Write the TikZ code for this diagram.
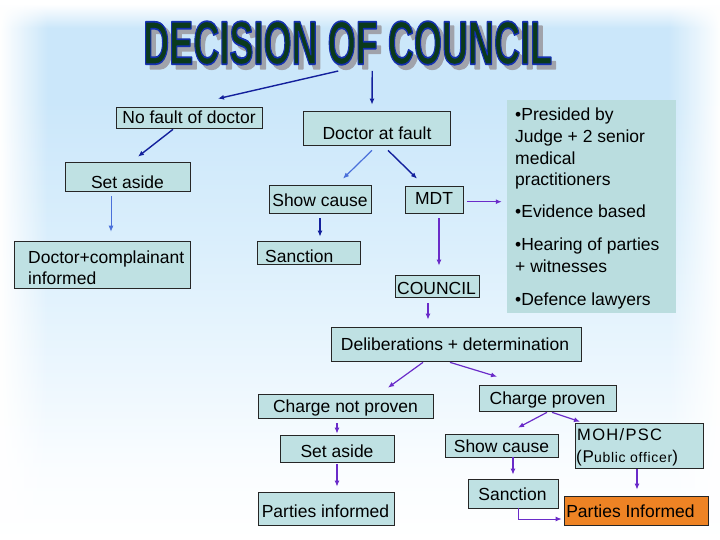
\documentclass[tikz,border=0pt]{standalone}
\usepackage{fontspec}
\setmainfont{Liberation Sans}
\usetikzlibrary{arrows.meta,fit,fadings}
\definecolor{boxfill}{HTML}{BFE1E3}
\definecolor{infofill}{HTML}{BADDDF}
\definecolor{orangefill}{HTML}{EE8324}
\definecolor{dblue}{HTML}{13209C}
\definecolor{lblue}{HTML}{4A70DA}
\definecolor{purp}{HTML}{6A2BC9}
\definecolor{ttlgreen}{HTML}{0B3A1C}
\definecolor{ttlshadow}{HTML}{A0A3AB}
\definecolor{bgA}{HTML}{CBE7FA}
\definecolor{bgB}{HTML}{DBEFFC}
\definecolor{bgC}{HTML}{EDF7FE}
\definecolor{bgD}{HTML}{FAFDFF}
\tikzfading[name=fadeL, left color=transparent!0, right color=transparent!100]
\tikzfading[name=fadeR, left color=transparent!100, right color=transparent!0]
\pgfdeclareverticalshading{bgshade}{100bp}{color(0bp)=(white); color(25bp)=(white); color(31.5bp)=(bgD); color(39.8bp)=(bgC); color(51.9bp)=(bgB); color(65.7bp)=(bgA); color(72.4bp)=(bgA); color(74.6bp)=(white); color(100bp)=(white)}
% #1 = stroke colour (r g b) for the glyph outline
\newcommand\ttltext[1]{\resizebox{409pt}{43pt}{\bfseries\special{pdf:literal direct 2 Tr #1 RG 0.28 w 1 j}DECISION OF COUNCIL\special{pdf:literal direct 0 Tr 0 j}}}
\begin{document}
\begin{tikzpicture}[x=1pt,y=-1pt,
  bx/.style={draw=black!85, line width=0.7pt, fill=boxfill, inner sep=0pt},
  tx/.style={inner sep=0pt, font=\fontsize{17.5}{21}\selectfont, text=black},
  mohtx/.style={inner sep=0pt, font=\fontsize{16.5}{18}\selectfont\addfontfeature{LetterSpace=8}, text=black},
  mohtxb/.style={inner sep=0pt, font=\fontsize{14}{17}\selectfont\addfontfeature{LetterSpace=5}, text=black},
  ttl/.style={inner sep=0pt, anchor=south west},
  arr/.style={-{Latex[length=6pt,width=5pt]}},
  darr/.style={arr, draw=dblue, line width=1.4pt},
  larr/.style={arr, draw=lblue, line width=1.2pt},
  thinarr/.style={arr, draw=lblue, line width=0.8pt},
  parr/.style={arr, draw=purp, line width=1.2pt}]

\useasboundingbox (0,0) rectangle (720,540);
% background
\shade[shading=bgshade] (0,0) rectangle (720,540);
\fill[white, path fading=fadeL] (0,0) rectangle (48,540);
\fill[white, path fading=fadeR] (668,0) rectangle (720,540);

% title with shadow
\node[ttl, text=ttlshadow] (tshadow) at (147.5,69.5) {\ttltext{0.63 0.64 0.67}};
\node[ttl, text=ttlgreen] (title) at (143,65) {\ttltext{0.08 0.19 0.69}};

% boxes
\node[bx, fit={(116,107)(262,128)}] (nofault) {};
\node[bx, fit={(303,111)(450,145)}] (atfault) {};
\node[bx, fit={(65,162)(190,191)}] (setaside1) {};
\node[bx, fit={(14,241)(190,288)}] (informed1) {};
\node[bx, fit={(269,185)(371,213)}] (showcause1) {};
\node[bx, fit={(405,186)(463,213)}] (mdt) {};
\node[bx, fit={(257,241)(360,264)}] (sanction1) {};
\node[bx, fit={(395,275)(479,297)}] (council) {};
\node[inner sep=0pt, fill=infofill, fit={(507,100)(676,313)}] (info) {};
\node[bx, fit={(331,327)(581,361)}] (delib) {};
\node[bx, fit={(258,394)(433,418)}] (cnp) {};
\node[bx, fit={(479,385)(616,411)}] (cp) {};
\node[bx, fit={(280,435)(394,462)}] (setaside2) {};
\node[bx, fit={(445,434)(558,457)}] (showcause2) {};
\node[bx, fit={(575,423)(703,468)}] (moh) {};
\node[bx, fit={(468,479)(558,508)}] (sanction2) {};
\node[bx, fit={(258,492)(394,525)}] (parties1) {};
\node[bx, fill=orangefill, fit={(564,496)(708,525)}] (parties2) {};

% texts
\node[tx, anchor=base] (nofault-t) at (189,124) {No fault of doctor};
\node[tx, anchor=base] (atfault-t) at (377,140) {Doctor at fault};
\node[tx, anchor=base] (setaside1-t) at (127.5,189) {Set aside};
\node[tx, anchor=base west] (informed1-a) at (28,263) {Doctor+complainant};
\node[tx, anchor=base west] (informed1-b) at (28,284) {informed};
\node[tx, anchor=base] (showcause1-t) at (320,207) {Show cause};
\node[tx, anchor=base] (mdt-t) at (434,205) {MDT};
\node[tx, anchor=base west] (sanction1-t) at (265,262) {Sanction};
\node[tx, anchor=base] (council-t) at (436.5,294) {COUNCIL};
\node[tx, anchor=base west] (i1) at (515,121) {\textbullet Presided by};
\node[tx, anchor=base west] (i2) at (515,143) {Judge + 2 senior};
\node[tx, anchor=base west] (i3) at (515,165) {medical};
\node[tx, anchor=base west] (i4) at (515,186) {practitioners};
\node[tx, anchor=base west] (i5) at (515,218) {\textbullet Evidence based};
\node[tx, anchor=base west] (i6) at (515,251) {\textbullet Hearing of parties};
\node[tx, anchor=base west] (i7) at (515,272) {+ witnesses};
\node[tx, anchor=base west] (i8) at (515,305) {\textbullet Defence lawyers};
\node[tx, anchor=base] (delib-t) at (455,350) {Deliberations + determination};
\node[tx, anchor=base] (cnp-t) at (345.5,412) {Charge not proven};
\node[tx, anchor=base] (cp-t) at (547.5,404) {Charge proven};
\node[tx, anchor=base] (setaside2-t) at (337,457) {Set aside};
\node[tx, anchor=base] (showcause2-t) at (501.5,452) {Show cause};
\node[mohtx, anchor=base west] (moh-a) at (577,440) {MOH/PSC};
\node[mohtxb, anchor=base west] (moh-b) at (576,462) {{\fontsize{17}{17}\selectfont(P}ublic officer{\fontsize{17}{17}\selectfont)}};
\node[tx, anchor=base] (sanction2-t) at (512.5,500) {Sanction};
\node[tx, anchor=base] (parties1-t) at (325.5,517) {Parties informed};
\node[tx, anchor=base] (parties2-t) at (630.5,517) {Parties Informed};

% connectors
\draw[darr] ([xshift=-9.5pt,yshift=-6pt]title.south) -- ([xshift=29pt,yshift=8pt]nofault.north);
\draw[darr] ([xshift=24.5pt,yshift=-6pt]title.south) -- ([xshift=-4.5pt,yshift=6pt]atfault.north);
\draw[darr] ([xshift=-16pt,yshift=-1pt]nofault.south) -- ([xshift=10.5pt,yshift=5pt]setaside1.north);
\draw[thinarr] ([xshift=-16.5pt,yshift=-5pt]setaside1.south) -- ([xshift=9pt,yshift=9pt]informed1.north);
\draw[larr] ([xshift=-4.5pt,yshift=-5pt]atfault.south) -- ([xshift=23pt,yshift=6pt]showcause1.north);
\draw[darr] ([xshift=11.5pt,yshift=-5pt]atfault.south) -- ([xshift=-17pt,yshift=7pt]mdt.north);
\draw[darr] ([yshift=-5pt]showcause1.south) -- ([xshift=11.5pt,yshift=4pt]sanction1.north);
\draw[parr] ([xshift=4pt,yshift=-2.2pt]mdt.east) -- ([xshift=-5pt,yshift=4.8pt]info.west);
\draw[parr] ([xshift=5pt,yshift=-5pt]mdt.south) -- ([xshift=2pt,yshift=9pt]council.north);
\draw[parr] ([xshift=-9pt,yshift=-6pt]council.south) -- ([xshift=-28pt,yshift=7pt]delib.north);
\draw[parr] ([xshift=-33pt,yshift=-1pt]delib.south) -- ([xshift=42.5pt,yshift=6pt]cnp.north);
\draw[parr] ([xshift=-6pt,yshift=-1pt]delib.south) -- ([xshift=-50.5pt,yshift=8pt]cp.north);
\draw[parr] ([xshift=-8.5pt,yshift=-5pt]cnp.south) -- ([yshift=1pt]setaside2.north);
\draw[parr] ([yshift=-2pt]setaside2.south) -- ([xshift=11pt,yshift=5pt]parties1.north);
\draw[parr] ([xshift=-0.5pt,yshift=-1pt]cp.south) -- ([xshift=16.5pt,yshift=6pt]showcause2.north);
\draw[parr] ([xshift=4.5pt,yshift=-1pt]cp.south) -- ([xshift=-59pt,yshift=1pt]moh.north);
\draw[parr] ([xshift=11.5pt]showcause2.south) -- ([yshift=4pt]sanction2.north);
\draw[parr] ([xshift=-2pt,yshift=-1pt]moh.south) -- ([xshift=1pt,yshift=6pt]parties2.north);
\draw[parr, line width=1pt] ([xshift=5pt]sanction2.south) |- ([xshift=-2pt,yshift=-8.5pt]parties2.west);
\end{tikzpicture}
\end{document}
